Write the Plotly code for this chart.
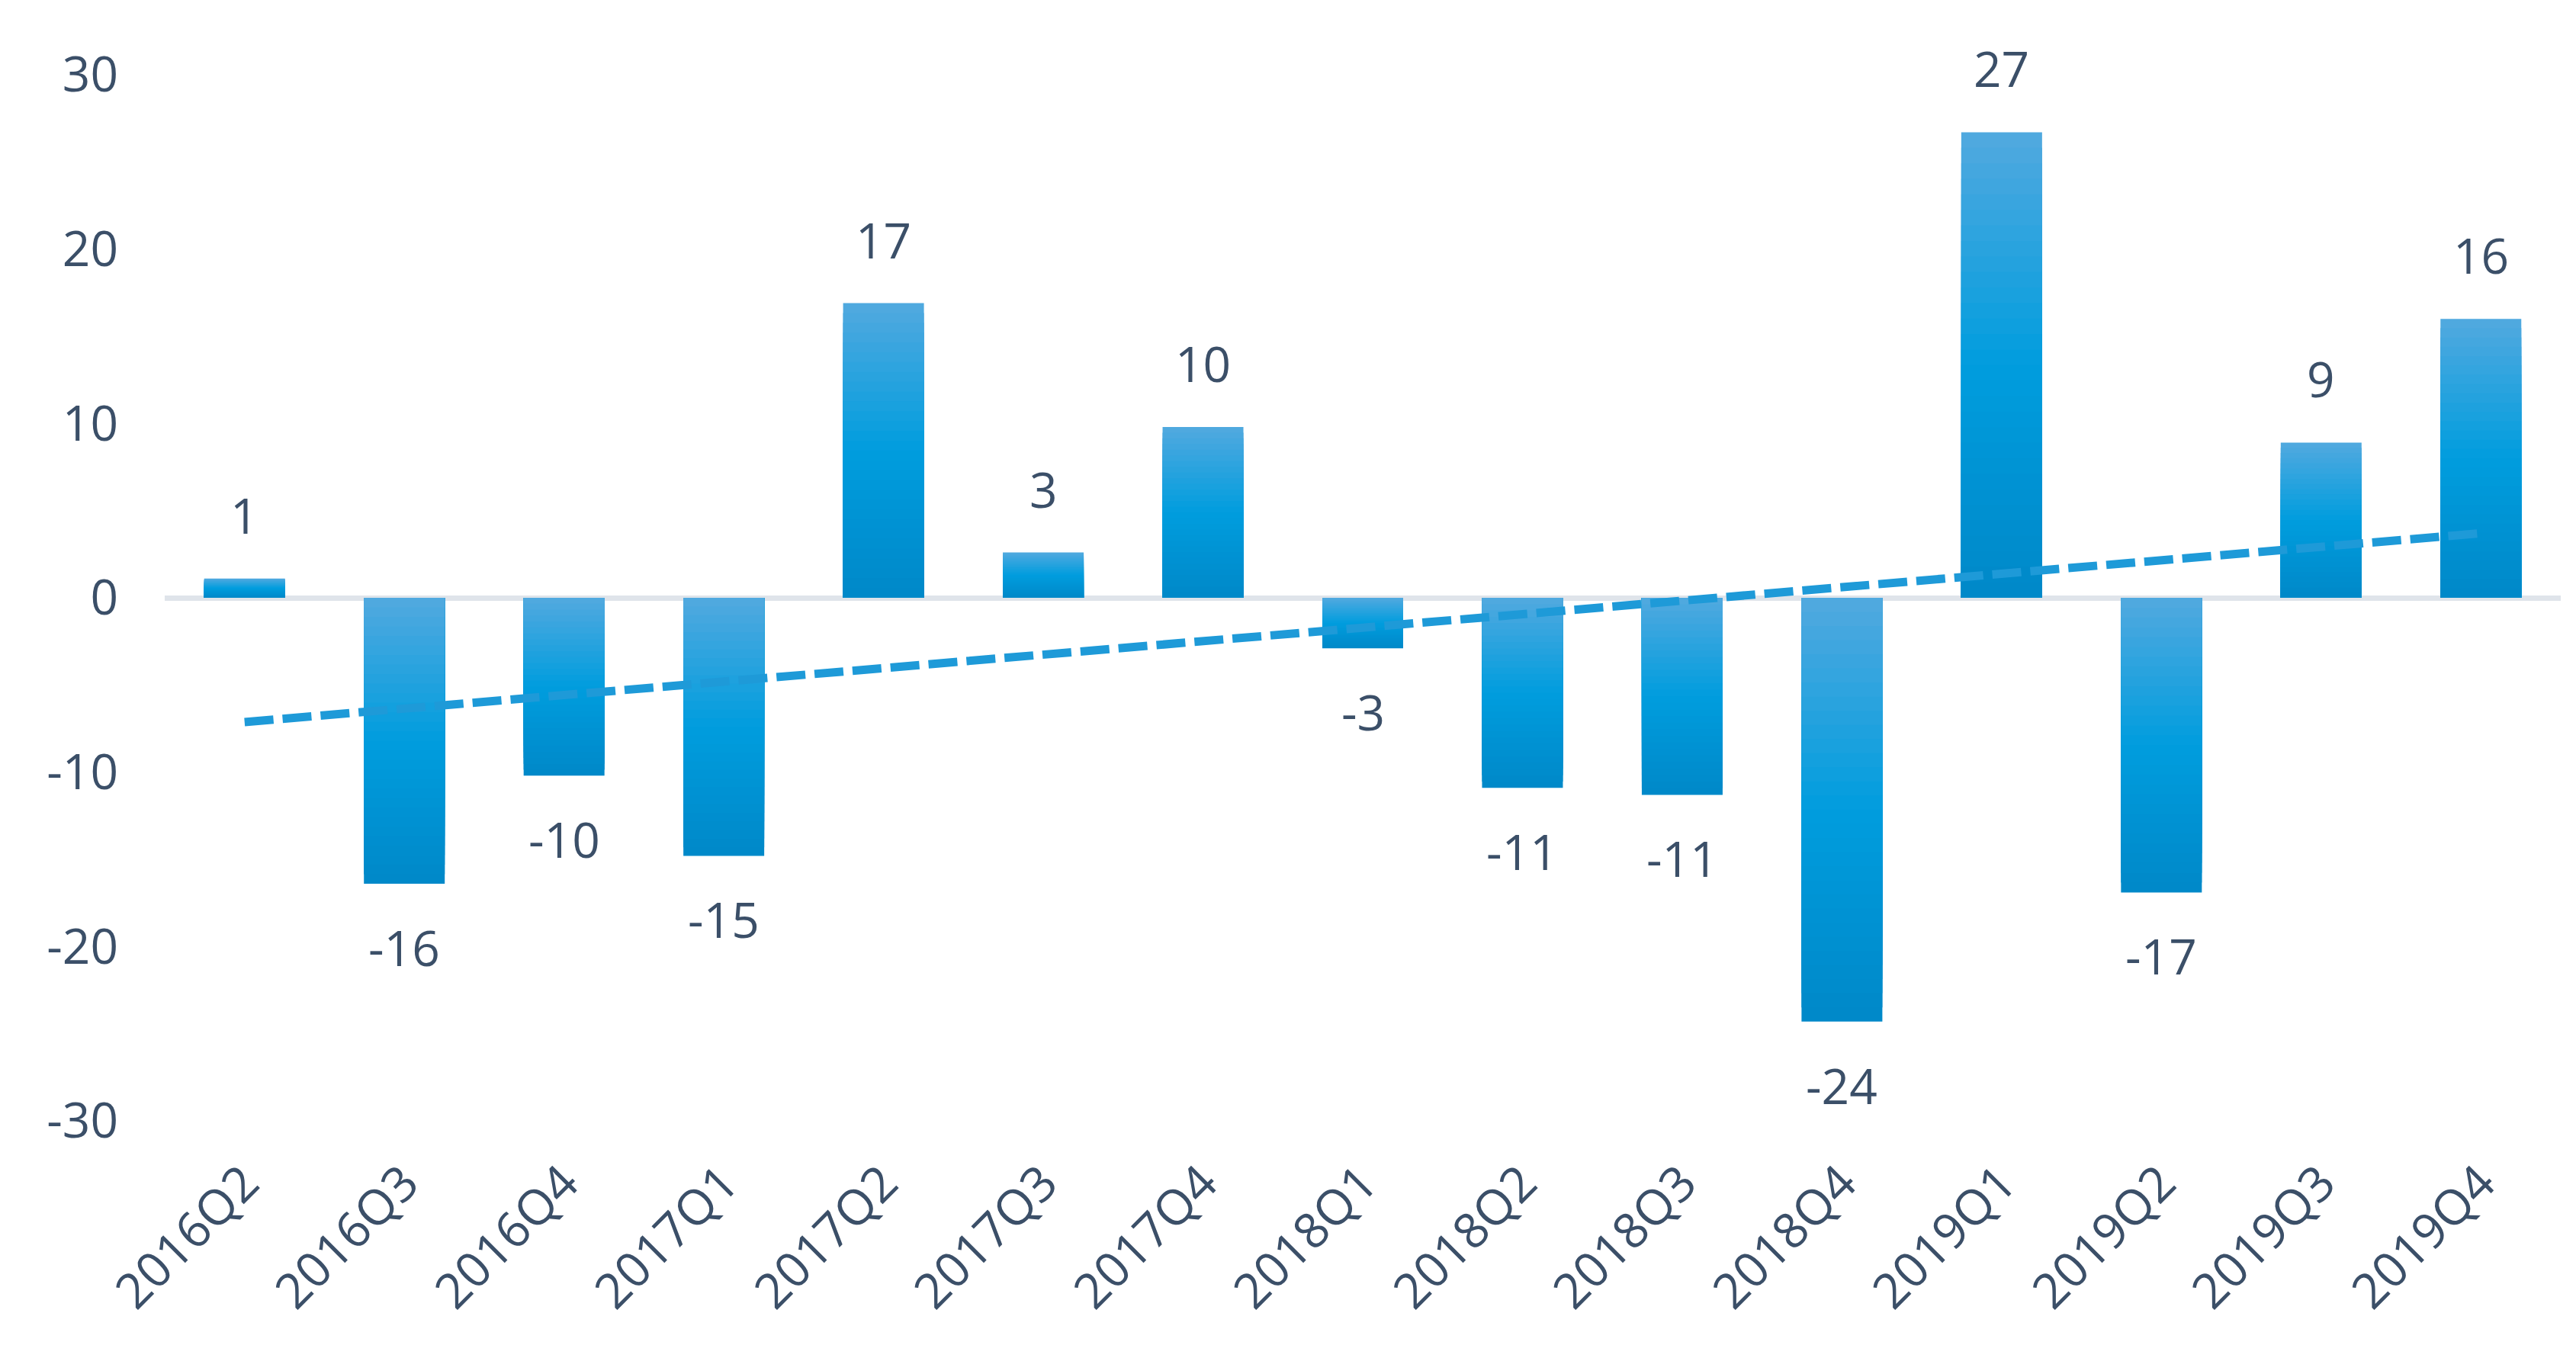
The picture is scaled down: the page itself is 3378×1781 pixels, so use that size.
import plotly.graph_objects as go
import numpy as np

categories = ["2016Q2", "2016Q3", "2016Q4", "2017Q1", "2017Q2", "2017Q3", "2017Q4",
              "2018Q1", "2018Q2", "2018Q3", "2018Q4", "2019Q1", "2019Q2", "2019Q3", "2019Q4"]
values = [1.1, -16.4, -10.2, -14.8, 16.9, 2.6, 9.8, -2.9, -10.9, -11.3, -24.3, 26.7, -16.9, 8.9, 16.0]
y_ticks = [-30, -20, -10, 0, 10, 20, 30]
y_ticktext = ["-30", "-20", "-10", "0", "10", "20", "30"]

TEXT = "#3B4F68"
FONT = "Open Sans, Lato, sans-serif"
FS = 64

# gradient stops (top -> middle -> bottom of each bar)
C_TOP = np.array([0x52, 0xA9, 0xDF])
C_MID = np.array([0x00, 0x9D, 0xDE])
C_BOT = np.array([0x00, 0x88, 0xC8])


def grad(t):
    if t < 0.5:
        c = C_TOP + (C_MID - C_TOP) * (t / 0.5)
    else:
        c = C_MID + (C_BOT - C_MID) * ((t - 0.5) / 0.5)
    return "rgb(%d,%d,%d)" % tuple(int(round(x)) for x in c)


# Linear trendline (least squares), as in the spreadsheet's trendline
idx = np.arange(len(values))
slope, intercept = np.polyfit(idx, np.array(values), 1)
trend = (slope * idx + intercept).tolist()

fig = go.Figure()
N = 30
vals = np.array(values)
for k in range(N):
    frac = (N - k) / N
    colors = []
    for v in values:
        t = (k + 0.5) / N if v > 0 else 1 - (k + 0.5) / N
        colors.append(grad(t))
    fig.add_trace(go.Bar(
        x=categories, y=(vals * frac).tolist(),
        marker=dict(color=colors, line=dict(width=0)),
        showlegend=False, hoverinfo="skip" if k else "x+y",
    ))

fig.add_trace(go.Scatter(
    x=categories, y=trend, mode="lines",
    line=dict(color="#1E9AD8", width=11, dash="38px,12px"),
    showlegend=False, hoverinfo="skip",
))

for c, v in zip(categories, values):
    fig.add_annotation(
        x=c, y=v, text=f"{v:.0f}", showarrow=False,
        yanchor="bottom" if v > 0 else "top",
        yshift=38 if v > 0 else -38,
        font=dict(family=FONT, size=FS, color=TEXT),
    )

fig.update_layout(
    width=3378, height=1781,
    margin=dict(l=208, r=28, t=90, b=319),
    paper_bgcolor="white", plot_bgcolor="white",
    barmode="overlay", bargap=0.494,
    font=dict(family=FONT, size=FS, color=TEXT),
    xaxis=dict(
        type="category", tickangle=-45, showgrid=False, showline=False,
        ticks="", ticklabelstandoff=30,
        tickfont=dict(family=FONT, size=FS, color=TEXT),
    ),
    yaxis=dict(
        range=[-30, 30], tickvals=y_ticks, ticktext=y_ticktext,
        showgrid=False, showline=False,
        zeroline=True, zerolinecolor="#DFE4EA", zerolinewidth=7,
        ticks="", ticklabelstandoff=60,
        tickfont=dict(family=FONT, size=FS, color=TEXT),
    ),
)

fig.write_html("out.html")
